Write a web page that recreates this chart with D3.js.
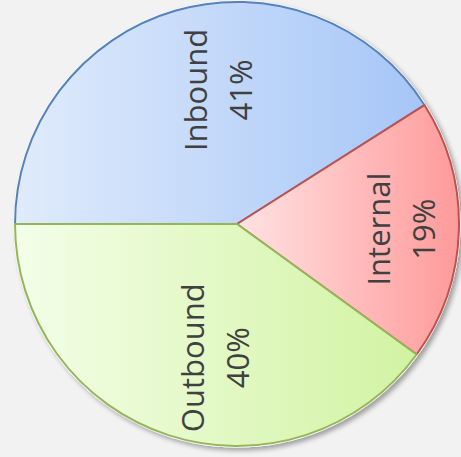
<!DOCTYPE html>
<html>
<head>
<meta charset="utf-8">
<script src="https://cdn.jsdelivr.net/npm/d3@7"></script>
<style>
  html, body { margin: 0; padding: 0; background: #f2f2f2; }
  svg { display: block; }
</style>
</head>
<body>
<script>
"use strict"
/* dati */
const categorie = ["Inbound", "Internal", "Outbound"];
const valori = [41, 19, 40];
const etichettePercento = ["41%", "19%", "40%"];
/* colori: [chiaro (sinistra), scuro (destra)] e bordi */
const coloriBlu = ["#e0ebfc", "#a6c6f7"];
const coloriRossi = ["#ffe3e3", "#ff9a9a"];
const coloriVerdi = ["#f3fee8", "#d2f3a2"];
const coloriBordo = ["#5682bb", "#c0504d", "#94b65a"];

const larghezza = 461, altezza = 457;
const centro = { x: 237, y: 224 };
const raggio = 222;

const svg = d3.select("body").append("svg")
    .attr("width", larghezza)
    .attr("height", altezza);

const defs = svg.append("defs");
const gradienti = [coloriBlu, coloriRossi, coloriVerdi];
gradienti.forEach(function (c, i) {
    const g = defs.append("linearGradient")
        .attr("id", "grad" + i)
        .attr("x1", "0%").attr("y1", "0%")
        .attr("x2", "100%").attr("y2", "0%");
    g.append("stop").attr("offset", "0%").attr("stop-color", c[0]);
    g.append("stop").attr("offset", "100%").attr("stop-color", c[1]);
});

/* ombra leggera in basso a destra */
const ombra = defs.append("filter").attr("id", "ombra")
    .attr("x", "-10%").attr("y", "-10%").attr("width", "120%").attr("height", "120%");
ombra.append("feGaussianBlur").attr("in", "SourceAlpha").attr("stdDeviation", 2.5).attr("result", "sfoc");
ombra.append("feOffset").attr("in", "sfoc").attr("dx", 3).attr("dy", 3).attr("result", "sposta");
ombra.append("feComponentTransfer").attr("in", "sposta").attr("result", "chiara")
    .append("feFuncA").attr("type", "linear").attr("slope", 0.35);
const unione = ombra.append("feMerge");
unione.append("feMergeNode").attr("in", "chiara");
unione.append("feMergeNode").attr("in", "SourceGraphic");

const gruppo = svg.append("g")
    .attr("transform", `translate(${centro.x},${centro.y})`);

/* bordo bianco e ombra sotto la torta */
gruppo.append("circle")
    .attr("r", raggio + 1.5)
    .attr("fill", "#ffffff")
    .attr("filter", "url(#ombra)");

const torta = d3.pie()
    .sort(null)
    .startAngle(-Math.PI / 2)
    .endAngle(3 * Math.PI / 2)
    .value(function (d) { return d });

const arco = d3.arc().innerRadius(0).outerRadius(raggio);
const fette = torta(valori);

gruppo.selectAll("path.fetta")
    .data(fette)
    .enter()
    .append("path")
    .attr("class", "fetta")
    .attr("d", arco)
    .attr("fill", function (d, i) { return `url(#grad${i})` })
    .attr("stroke", function (d, i) { return coloriBordo[i] })
    .attr("stroke-width", 2)
    .attr("stroke-linejoin", "round");

/* posizione delle etichette: le fette larghe tirano l'etichetta verso l'asse verticale */
function posizioneEtichetta(d) {
    const ampiezza = d.endAngle - d.startAngle;
    let angolo = (d.startAngle + d.endAngle) / 2;
    let r = raggio * 0.74;
    if (ampiezza > Math.PI / 2) {
        const verticale = Math.round(angolo / Math.PI) * Math.PI;
        angolo = verticale + (angolo - verticale) * 0.5;
        r = raggio * 0.61;
    }
    return [Math.sin(angolo) * r, -Math.cos(angolo) * r];
}

const dimFont = 31;
const interlinea = 45;
const etichette = gruppo.selectAll("g.etichetta")
    .data(fette)
    .enter()
    .append("g")
    .attr("class", "etichetta")
    .attr("transform", function (d) {
        const p = posizioneEtichetta(d);
        return `translate(${p[0]},${p[1]}) rotate(-90)`;
    });

etichette.append("text")
    .attr("text-anchor", "middle")
    .attr("font-family", "'Open Sans', 'DejaVu Sans', sans-serif")
    .attr("font-size", `${dimFont}px`)
    .attr("fill", "#404040")
    .attr("y", -interlinea / 2 + dimFont * 0.36)
    .text(function (d, i) { return categorie[i] });

etichette.append("text")
    .attr("text-anchor", "middle")
    .attr("font-family", "'Open Sans', 'DejaVu Sans', sans-serif")
    .attr("font-size", `${dimFont}px`)
    .attr("fill", "#404040")
    .attr("y", interlinea / 2 + dimFont * 0.36)
    .text(function (d, i) { return etichettePercento[i] });
</script>
</body>
</html>
